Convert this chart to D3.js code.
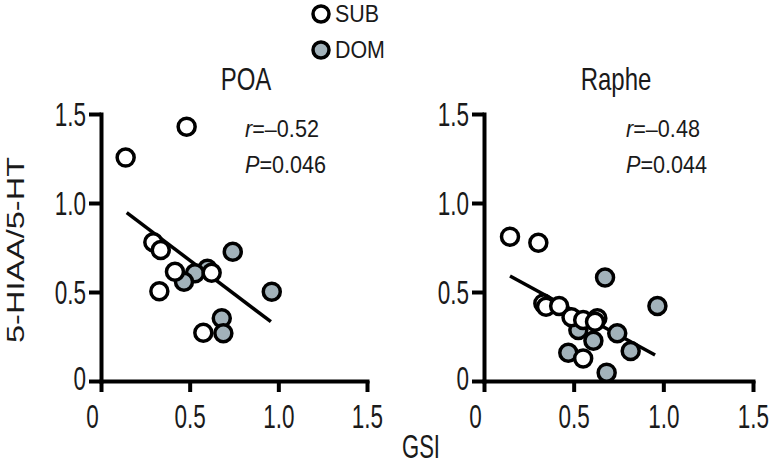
<!DOCTYPE html>
<html>
<head>
<meta charset="utf-8">
<script src="https://cdn.jsdelivr.net/npm/d3@7"></script>
<style>
  html, body { margin: 0; padding: 0; background: #fff; }
  svg { display: block; font-family: "Liberation Sans", Arial, Helvetica, sans-serif; }
</style>
</head>
<body>
<svg id="chart" width="776" height="469"></svg>
<script>
// ---------- data ----------
const xTicks = [0, 0.5, 1.0, 1.5];
const yTicks = [0, 0.5, 1.0, 1.5];
const xTickLabels = ["0", "0.5", "1.0", "1.5"];
const yTickLabels = ["0", "0.5", "1.0", "1.5"];

const panelTitles = ["POA", "Raphe"];
const rValues = ["\u20130.52", "\u20130.48"];
const pValues = ["0.046", "0.044"];

// POA
const poaSubGSI = [0.483, 0.139, 0.295, 0.337, 0.417, 0.329, 0.624, 0.577];
const poaSubRatio = [1.429, 1.255, 0.779, 0.736, 0.614, 0.504, 0.608, 0.271];
const poaDomGSI = [0.743, 0.963, 0.681, 0.690, 0.600, 0.530, 0.468];
const poaDomRatio = [0.726, 0.502, 0.352, 0.268, 0.630, 0.605, 0.558];
const poaFitX = [0.145, 0.958];
const poaFitY = [0.946, 0.333];

// Raphe
const rapheSubGSI = [0.145, 0.303, 0.331, 0.346, 0.419, 0.488, 0.553, 0.632, 0.619, 0.553];
const rapheSubRatio = [0.811, 0.777, 0.436, 0.417, 0.421, 0.358, 0.343, 0.352, 0.333, 0.127];
const rapheDomGSI = [0.675, 0.967, 0.526, 0.610, 0.743, 0.818, 0.470, 0.684];
const rapheDomRatio = [0.582, 0.421, 0.287, 0.226, 0.268, 0.169, 0.159, 0.047];
const rapheFitX = [0.145, 0.954];
const rapheFitY = [0.590, 0.146];

const legendLabels = ["SUB", "DOM"];
const xAxisTitle = "GSI";
const yAxisTitle = "5-HIAA/5-HT";

// ---------- drawing ----------
const svg = d3.select("#chart");
const grey = "#a2b2ba";
const ink = "#1a1a1a";

// text helper: places text with a local stretch (the original uses tall lettering)
function label(parent, x, y, txt, size, sx, sy, anchor, rot) {
  return parent.append("text")
    .attr("transform", `translate(${x},${y}) rotate(${rot || 0}) scale(${sx},${sy})`)
    .attr("text-anchor", anchor || "start")
    .attr("font-size", size).attr("fill", ink).text(txt);
}

const panels = [
  { title: panelTitles[0], r: rValues[0], p: pValues[0], x0: 101, x1: 367, annX: 245, titleX: 246,
    sub: poaSubGSI.map((g, i) => [g, poaSubRatio[i]]),
    dom: poaDomGSI.map((g, i) => [g, poaDomRatio[i]]),
    fit: poaFitX.map((g, i) => [g, poaFitY[i]]) },
  { title: panelTitles[1], r: rValues[1], p: pValues[1], x0: 484, x1: 753, annX: 626, titleX: 616,
    sub: rapheSubGSI.map((g, i) => [g, rapheSubRatio[i]]),
    dom: rapheDomGSI.map((g, i) => [g, rapheDomRatio[i]]),
    fit: rapheFitX.map((g, i) => [g, rapheFitY[i]]) }
];

const yTop = 114, yBot = 381;
const tickSX = 0.9, tickSY = 1.3;

panels.forEach(pn => {
  const x = d3.scaleLinear().domain([0, 1.5]).range([pn.x0, pn.x1]);
  const y = d3.scaleLinear().domain([0, 1.5]).range([yBot, yTop]);
  const g = svg.append("g");

  // x axis
  const xa = g.append("g").attr("transform", `translate(0,${yBot})`)
    .call(d3.axisBottom(x).tickValues(xTicks).tickSize(11).tickSizeOuter(0)
      .tickFormat((d, i) => xTickLabels[i]));
  // y axis
  const ya = g.append("g").attr("transform", `translate(${pn.x0},0)`)
    .call(d3.axisLeft(y).tickValues(yTicks).tickSize(12).tickSizeOuter(0)
      .tickFormat((d, i) => yTickLabels[i]));

  [xa, ya].forEach(a => {
    a.select(".domain").attr("stroke", "#000").attr("stroke-width", 4).attr("stroke-linecap", "square");
    a.selectAll(".tick line").attr("stroke", "#000").attr("stroke-width", 4);
    a.selectAll(".tick text").attr("fill", ink).attr("font-size", 25)
      .attr("font-family", "'Liberation Sans', Arial, sans-serif")
      .attr("x", 0).attr("y", 0).attr("dy", null);
  });
  xa.selectAll(".tick text")
    .attr("transform", d => `translate(${d === 0 ? -9 : 0},47) scale(${tickSX},${tickSY})`);
  ya.selectAll(".tick text")
    .attr("transform", d => `translate(-15,${d === 0 ? 8 : 11}) scale(${tickSX},${tickSY})`);

  // title
  label(g, pn.titleX, 90, pn.title, 24, 1, 1.3, "middle");

  // annotations
  const t1 = label(g, pn.annX, 137, "", 21, 1.03, 1.12, "start");
  t1.append("tspan").attr("font-style", "italic").text("r");
  t1.append("tspan").text("=" + pn.r);
  const t2 = label(g, pn.annX, 173, "", 21, 1.03, 1.12, "start");
  t2.append("tspan").attr("font-style", "italic").text("P");
  t2.append("tspan").text("=" + pn.p);

  // fit line
  g.append("line")
    .attr("x1", x(pn.fit[0][0])).attr("y1", y(pn.fit[0][1]))
    .attr("x2", x(pn.fit[1][0])).attr("y2", y(pn.fit[1][1]))
    .attr("stroke", "#000").attr("stroke-width", 3.5);

  // points
  g.append("g").selectAll("circle").data(pn.dom).join("circle")
    .attr("cx", d => x(d[0])).attr("cy", d => y(d[1])).attr("r", 8.5)
    .attr("fill", grey).attr("stroke", "#000").attr("stroke-width", 3.5);
  g.append("g").selectAll("circle").data(pn.sub).join("circle")
    .attr("cx", d => x(d[0])).attr("cy", d => y(d[1])).attr("r", 8.5)
    .attr("fill", "#fff").attr("stroke", "#000").attr("stroke-width", 3.5);
});

// axis titles
label(svg, 421, 458, xAxisTitle, 24, 0.92, 1.4, "middle");
label(svg, 24, 250, yAxisTitle, 26, 1.25, 0.95, "middle", -90);

// legend
const leg = svg.append("g");
legendLabels.forEach((lab, i) => {
  const cy = 14 + i * 36;
  leg.append("circle").attr("cx", 321).attr("cy", cy).attr("r", 8)
    .attr("fill", i === 0 ? "#fff" : grey).attr("stroke", "#000").attr("stroke-width", 3.5);
  label(leg, 335, cy + 8, lab, 21, 1.02, 1.12, "start");
});
</script>
</body>
</html>
